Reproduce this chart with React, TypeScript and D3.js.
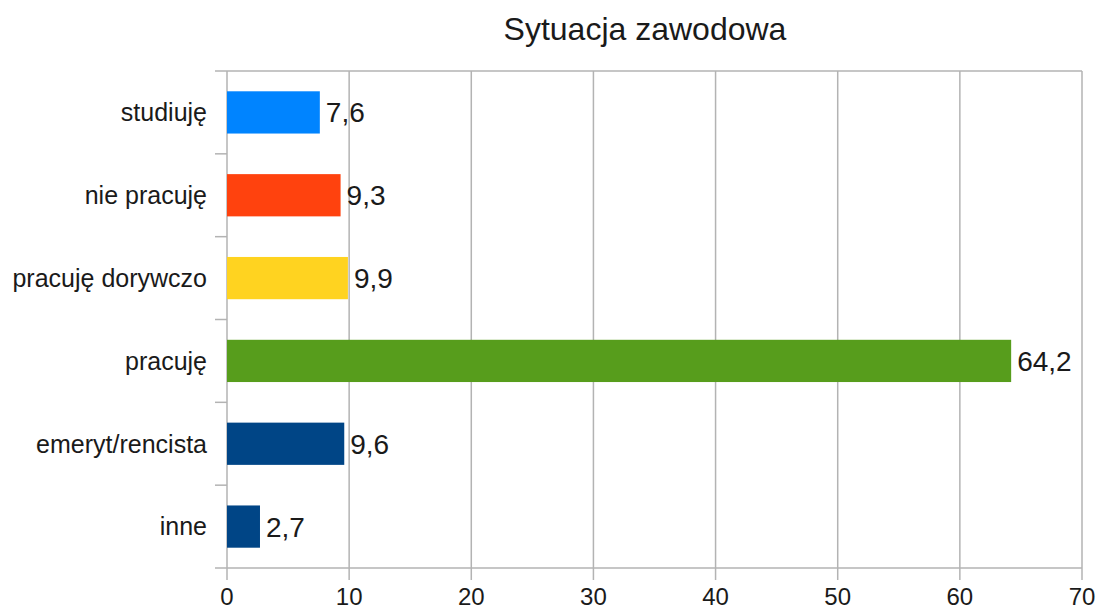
import React from "react";
import * as d3 from "d3";

const title = "Sytuacja zawodowa";
const categories = ["studiuję", "nie pracuję", "pracuję dorywczo", "pracuję", "emeryt/rencista", "inne"];
const values = [7.6, 9.3, 9.9, 64.2, 9.6, 2.7];
const colors = ["#0084ff", "#ff420e", "#ffd320", "#579d1c", "#004586", "#004586"];
const xTicks = [0, 10, 20, 30, 40, 50, 60, 70];

const W = 1097;
const H = 610;
const M = { left: 227, right: 1082, top: 71, bottom: 568 };
const FONT = "'Liberation Sans', Arial, sans-serif";

export default function App() {
  const x = d3.scaleLinear().domain([0, 70]).range([M.left, M.right]);
  const y = d3.scaleBand<string>().domain(categories).range([M.top, M.bottom]).paddingInner(0.49).paddingOuter(0.245);
  const band = d3.scaleBand<string>().domain(categories).range([M.top, M.bottom]);
  const fmt = (v: number) => v.toFixed(1).replace(".", ",");
  const grid = "#b3b3b3";
  const boundaries = d3.range(categories.length + 1).map((i) => M.top + i * band.step());

  return (
    <svg width={W} height={H} style={{ position: "absolute", left: 0, top: 0, background: "#fff" }} fontFamily={FONT}>
      <rect x={0} y={0} width={W} height={H} fill="#fff" />
      <text x={645} y={40} textAnchor="middle" fontSize={32} fill="#1a1a1a">{title}</text>
      {xTicks.map((t) => (
        <g key={t}>
          <line x1={x(t)} x2={x(t)} y1={M.top} y2={M.bottom + 12} stroke={grid} strokeWidth={1.5} />
          <text x={x(t)} y={605} textAnchor="middle" fontSize={24} fill="#1a1a1a">{t}</text>
        </g>
      ))}
      {boundaries.map((b, i) => (
        <line key={i} x1={M.left - 12} x2={i === 0 || i === categories.length ? M.right : M.left} y1={b} y2={b} stroke={grid} strokeWidth={1.5} />
      ))}
      {categories.map((c, i) => {
        const yy = y(c)!;
        const h = y.bandwidth();
        const cy = yy + h / 2;
        return (
          <g key={c}>
            <rect x={x(0)} y={yy} width={x(values[i]) - x(0)} height={h} fill={colors[i]} />
            <text x={207} y={cy} dy="0.35em" textAnchor="end" fontSize={25} fill="#1a1a1a">{c}</text>
            <text x={x(values[i]) + 6} y={cy} dy="0.36em" fontSize={28} fill="#1a1a1a">{fmt(values[i])}</text>
          </g>
        );
      })}
    </svg>
  );
}
